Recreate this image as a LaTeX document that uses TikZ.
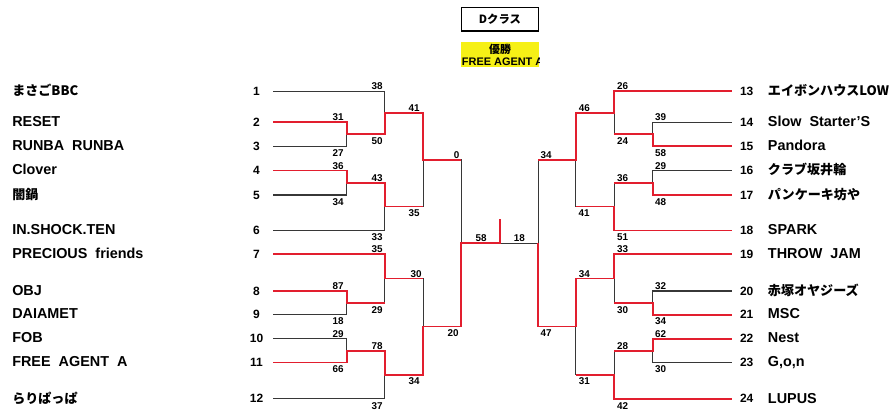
\documentclass[tikz,border=0pt]{standalone}
\usepackage{fontspec}
\setmainfont{Liberation Sans}
\newfontfamily\jpfont{Noto Sans CJK JP}
\usepackage{xcolor}
\definecolor{wred}{RGB}{226,30,46}
\definecolor{lgray}{RGB}{55,55,55}
\definecolor{cyell}{RGB}{246,240,22}

\begin{document}
\begin{tikzpicture}[x=0.75pt,y=-0.75pt,
  lose/.style={color=lgray, line width=0.8pt},
  win/.style={color=wred, line width=1.35pt},
  team/.style={font=\bfseries\fontsize{10.8}{12}\selectfont, inner sep=0pt, anchor=base west},
  jp/.style={font=\jpfont\bfseries\fontsize{9.8}{12}\selectfont},
  seed/.style={font=\bfseries\fontsize{9}{10}\selectfont, inner sep=0pt, anchor=base},
  score/.style={font=\bfseries\fontsize{7.4}{8}\selectfont, inner sep=0pt, anchor=base}]%

\useasboundingbox (0,0) rectangle (896,413);

%rows
\def\ya{91.3}
\def\yb{122.3}
\def\yc{146.3}
\def\yd{170.5}
\def\ye{195}
\def\yf{230.5}
\def\yg{254.3}
\def\yh{291}
\def\yi{314.7}
\def\yj{338.7}
\def\yk{362.5}
\def\yl{398.7}
%match heights
\def\mbc{134.3}
\def\mabc{112.8}
\def\mde{182.75}
\def\mdef{206.6}
\def\st{159.7}
\def\mhi{302.85}
\def\mghi{278.6}
\def\mjk{350.6}
\def\mjkl{374.65}
\def\semiB{326.6}
\def\fin{243.1}
%rounds, left and right
\def\xs{273.3}
\def\xa{346.7}
\def\xb{384.7}
\def\xc{423.3}
\def\xd{461.3}
\def\xe{731.7}
\def\xA{652.7}
\def\xB{614.3}
\def\xC{575.7}
\def\xD{538.3}

%title
\node[draw, line width=0.9pt, minimum width=57.5pt, minimum height=17.8pt, inner sep=0pt,
  font=\jpfont\bfseries\fontsize{8.5}{9}\selectfont] (cls) at (500,19.2) {Dクラス};
\fill[cyell] (460.7,42.3) rectangle (539,66.7);
\begin{scope}
  \clip (460.7,42.3) rectangle (539,66.7);
  \node[font=\jpfont\bfseries\fontsize{8.2}{9}\selectfont, inner sep=0pt] (yusho) at (500,49.5) {優勝};
  \node[font=\bfseries\fontsize{8.2}{9}\selectfont, inner sep=0pt, anchor=base west] (champ) at (461.7,65.8) {FREE AGENT A};
\end{scope}

%teams left
\foreach \i/\y/\t/\f in {1/\ya/まさごBBC/jp, 2/\yb/RESET/team, 3/\yc/RUNBA~~RUNBA/team, 4/\yd/Clover/team,
  5/\ye/闇鍋/jp, 6/\yf/IN.SHOCK.TEN/team, 7/\yg/PRECIOUS~~friends/team, 8/\yh/OBJ/team, 9/\yi/DAIAMET/team,
  10/\yj/FOB/team, 11/\yk/FREE~~AGENT~~A/team, 12/\yl/らりぱっぱ/jp}{
  \node[team,\f] (n\i) at (12,\y+4.3) {\t};
  \node[seed] (k\i) at (256.5,\y+4.2) {\i};
  \coordinate (p\i) at (\xs,\y);
}
%teams right
\foreach \i/\y/\t/\f in {13/\ya/エイボンハウスLOW/jp, 14/\yb/Slow~~Starter’S/team, 15/\yc/Pandora/team,
  16/\yd/クラブ坂井輪/jp, 17/\ye/パンケーキ坊や/jp, 18/\yf/SPARK/team, 19/\yg/THROW~~JAM/team,
  20/\yh/赤塚オヤジーズ/jp, 21/\yi/MSC/team, 22/\yj/Nest/team, 23/\yk/{G,o,n}/team, 24/\yl/LUPUS/team}{
  \node[team,\f] (n\i) at (767.7,\y+4.3) {\t};
  \node[seed] (k\i) at (746.7,\y+4.2) {\i};
  \coordinate (q\i) at (\xe,\y);
}

%left bracket
\draw[lose] (p2) -| (\xa,\mbc) |- (p3);
\draw[lose] (p1) -| (\xb,\mabc) |- (\xa,\mbc);
\draw[lose] (p4) -| (\xa,\mde) |- (p5);
\draw[lose] (\xa,\mde) -| (\xb,\mdef) |- (p6);
\draw[lose] (\xb,\mabc) -| (\xc,\st) |- (\xb,\mdef);
\draw[lose] (p8) -| (\xa,\mhi) |- (p9);
\draw[lose] (p7) -| (\xb,\mghi) |- (\xa,\mhi);
\draw[lose] (p10) -| (\xa,\mjk) |- (p11);
\draw[lose] (\xa,\mjk) -| (\xb,\mjkl) |- (p12);
\draw[lose] (\xb,\mghi) -| (\xc,\semiB) |- (\xb,\mjkl);
\draw[lose] (\xc,\st) -| (\xd,\fin) |- (\xc,\semiB);
%right bracket
\draw[lose] (q14) -| (\xA,\mbc) |- (q15);
\draw[lose] (q13) -| (\xB,\mabc) |- (\xA,\mbc);
\draw[lose] (q16) -| (\xA,\mde) |- (q17);
\draw[lose] (\xA,\mde) -| (\xB,\mdef) |- (q18);
\draw[lose] (\xB,\mabc) -| (\xC,\st) |- (\xB,\mdef);
\draw[lose] (q20) -| (\xA,\mhi) |- (q21);
\draw[lose] (q19) -| (\xB,\mghi) |- (\xA,\mhi);
\draw[lose] (q22) -| (\xA,\mjk) |- (q23);
\draw[lose] (\xA,\mjk) -| (\xB,\mjkl) |- (q24);
\draw[lose] (\xB,\mghi) -| (\xC,\semiB) |- (\xB,\mjkl);
\draw[lose] (\xC,\st) -| (\xD,\fin) |- (\xC,\semiB);
%final
\draw[lose] (\xd,\fin) -- (\xD,\fin);

%winners
\draw[win] (p2) -| (\xa,\mbc) -| (\xb,\mabc) -| (\xc,\st) -- (\xd,\st);
\draw[win] (p4) -| (\xa,\mde) -| (\xb,\mdef) -- (\xc,\mdef);
\draw[win] (p7) -| (\xb,\mghi) -- (\xc,\mghi);
\draw[win] (p8) -| (\xa,\mhi) -- (\xb,\mhi);
\draw[win] (p11) -| (\xa,\mjk) -| (\xb,\mjkl) -| (\xc,\semiB) -| (\xd,\fin) -| (500,219);
\draw[win] (q13) -| (\xB,\mabc) -| (\xC,\st) -- (\xD,\st);
\draw[win] (q15) -| (\xA,\mbc) -- (\xB,\mbc);
\draw[win] (q17) -| (\xA,\mde) -- (\xB,\mde);
\draw[win] (q18) -| (\xB,\mdef) -- (\xC,\mdef);
\draw[win] (q19) -| (\xB,\mghi) -| (\xC,\semiB) -| (\xD,\fin);
\draw[win] (q21) -| (\xA,\mhi) -- (\xB,\mhi);
\draw[win] (q22) -| (\xA,\mjk) -- (\xB,\mjk);
\draw[win] (q24) -| (\xB,\mjkl) -- (\xC,\mjkl);

%scores above lines
\foreach \x/\y/\t [count=\n] in {338/\yb/31, 377/\ya/38, 414/\mabc/41, 338/\yd/36, 377/\mde/43,
  456.5/\st/0, 377/\yg/35, 338/\yh/87, 416/\mghi/30, 338/\yj/29, 377/\mjk/78, 481/\fin/58, 519.3/\fin/18,
  622.7/\ya/26, 584.3/\mabc/46, 660.7/\yb/39, 546/\st/34, 660.7/\yd/29, 622.7/\mde/36,
  622.7/\yg/33, 584.3/\mghi/34, 660.7/\yh/32, 660.7/\yj/62, 622.7/\mjk/28}{
  \node[score] (su\n) at (\x,\y-1.3) {\t};
}
%scores below lines
\foreach \x/\y/\t [count=\n] in {338/\yc/27, 377/\mbc/50, 338/\ye/34, 414/\mdef/35, 377/\yf/33,
  338/\yi/18, 377/\mhi/29, 338/\yk/66, 414/\mjkl/34, 377/\yl/37, 453/\semiB/20,
  622.7/\mbc/24, 660.7/\yc/58, 660.7/\ye/48, 584/\mdef/41, 622.7/\yf/51, 622.7/\mhi/30,
  660.7/\yi/34, 660.7/\yk/30, 584.3/\mjkl/31, 622.7/\yl/42, 546/\semiB/47}{
  \node[score] (sd\n) at (\x,\y+10.3) {\t};
}

\end{tikzpicture}
\end{document}
